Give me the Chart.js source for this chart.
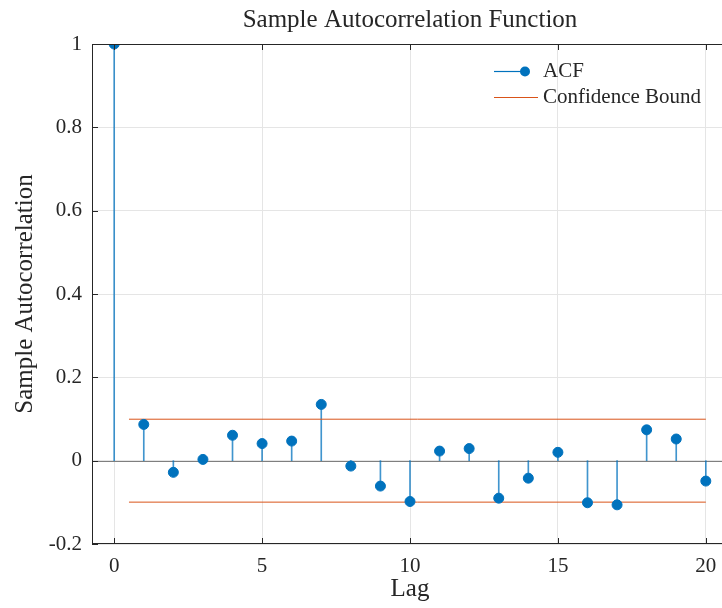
<!DOCTYPE html>
<html>
<head>
<meta charset="utf-8">
<script src="https://cdn.jsdelivr.net/npm/chart.js@4"></script>
<style>
  html, body { margin: 0; padding: 0; background: #fff; overflow: hidden; }
</style>
</head>
<body>
<canvas id="acfChart" width="734" height="608"></canvas>
<script>
const lags = [0, 1, 2, 3, 4, 5, 6, 7, 8, 9, 10, 11, 12, 13, 14, 15, 16, 17, 18, 19, 20];
const acf = [1, 0.087, -0.028, 0.003, 0.061, 0.041, 0.047, 0.135, -0.013, -0.061, -0.098,
  0.023, 0.029, -0.090, -0.042, 0.020, -0.101, -0.106, 0.074, 0.052, -0.049];
const boundLags = [0.5, 20];
const upperBound = [0.0995, 0.0995];
const lowerBound = [-0.0995, -0.0995];
const xTicks = [0, 5, 10, 15, 20];
const legendLabels = ['ACF', 'Confidence Bound'];

const blue = '#0072BD';
const orange = '#D95319';
const axisColor = '#262626';
const serif = '"Liberation Serif", "DejaVu Serif", serif';

// stems as floating bars from 0 to the value
const stems = lags.map((l, i) => ({x: l, y: [0, acf[i]]}));
const points = lags.map((l, i) => ({x: l, y: acf[i]}));

const boxPlugin = {
  id: 'box',
  beforeDatasetsDraw(chart) {
    const ctx = chart.ctx, a = chart.chartArea, y = chart.scales.y;
    ctx.save();
    ctx.strokeStyle = '#7f7f7f';
    ctx.lineWidth = 1;
    const y0 = Math.round(y.getPixelForValue(0)) + 0.5;
    ctx.beginPath(); ctx.moveTo(a.left, y0); ctx.lineTo(a.right, y0); ctx.stroke();
    ctx.restore();
  },
  afterDraw(chart) {
    const ctx = chart.ctx, a = chart.chartArea, x = chart.scales.x, y = chart.scales.y;
    ctx.save();
    ctx.strokeStyle = axisColor;
    ctx.lineWidth = 1;
    ctx.beginPath();
    ctx.moveTo(a.left + 0.5, a.bottom); ctx.lineTo(a.left + 0.5, Math.round(a.top) + 0.5);
    ctx.lineTo(a.right, Math.round(a.top) + 0.5);
    ctx.moveTo(a.left, Math.round(a.bottom) - 0.5); ctx.lineTo(a.right, Math.round(a.bottom) - 0.5);
    xTicks.forEach(v => {
      const px = Math.round(x.getPixelForValue(v)) + 0.5;
      ctx.moveTo(px, a.bottom); ctx.lineTo(px, a.bottom - 6);
      ctx.moveTo(px, a.top); ctx.lineTo(px, a.top + 6);
    });
    y.ticks.forEach(t => {
      const py = Math.round(y.getPixelForValue(t.value)) + 0.5;
      ctx.moveTo(a.left, py); ctx.lineTo(a.left + 6, py);
    });
    ctx.stroke();

    // legend
    const lx = 494, ly = [71.5, 97.5];
    ctx.lineWidth = 1.2;
    ctx.strokeStyle = blue;
    ctx.beginPath(); ctx.moveTo(lx, ly[0]); ctx.lineTo(lx + 31, ly[0]); ctx.stroke();
    ctx.fillStyle = blue;
    ctx.beginPath(); ctx.arc(lx + 31, ly[0], 5, 0, Math.PI * 2); ctx.fill();
    ctx.strokeStyle = orange;
    ctx.beginPath(); ctx.moveTo(lx, ly[1]); ctx.lineTo(lx + 44, ly[1]); ctx.stroke();
    ctx.fillStyle = axisColor;
    ctx.font = '21px ' + serif;
    ctx.textBaseline = 'middle';
    legendLabels.forEach((t, i) => ctx.fillText(t, lx + 49, ly[i]));
    ctx.restore();
  }
};

new Chart(document.getElementById('acfChart').getContext('2d'), {
  data: {
    datasets: [
      {type: 'bar', data: stems, backgroundColor: 'rgba(0,114,189,0.75)', barThickness: 1, grouped: false, order: 3},
      {type: 'line', data: boundLags.map((l, i) => ({x: l, y: upperBound[i]})), borderColor: orange, borderWidth: 1, pointRadius: 0, order: 2},
      {type: 'line', data: boundLags.map((l, i) => ({x: l, y: lowerBound[i]})), borderColor: orange, borderWidth: 1, pointRadius: 0, order: 2},
      {type: 'scatter', data: points, backgroundColor: blue, borderColor: blue, pointRadius: 5, pointHoverRadius: 5, order: 1}
    ]
  },
  options: {
    responsive: false,
    animation: false,
    events: [],
    layout: {padding: {left: 0, right: 0, top: 0, bottom: 0}},
    plugins: {
      legend: {display: false},
      tooltip: {enabled: false},
      title: {
        display: true, text: 'Sample Autocorrelation Function', fullSize: false,
        color: axisColor, font: {family: serif, size: 25, weight: 'normal'},
        padding: {top: 5, bottom: 9}
      }
    },
    scales: {
      x: {
        type: 'linear', min: -0.75, max: 20.75, offset: false,
        afterBuildTicks: s => { s.ticks = xTicks.map(v => ({value: v})); },
        afterFit: s => { s.height = 64; },
        grid: {color: '#e5e5e5', drawTicks: false, offset: false},
        border: {display: false},
        ticks: {color: axisColor, padding: 10, font: {family: serif, size: 21}, maxRotation: 0},
        title: {display: true, text: 'Lag', color: axisColor, font: {family: serif, size: 25}, padding: {top: 0}}
      },
      y: {
        min: -0.2, max: 1,
        afterFit: s => { s.width = 92; },
        grid: {color: '#e5e5e5', drawTicks: false},
        border: {display: false},
        ticks: {stepSize: 0.2, color: axisColor, padding: 10, font: {family: serif, size: 21},
          callback: v => String(Math.round(v * 10) / 10)},
        title: {display: true, text: 'Sample Autocorrelation', color: axisColor, font: {family: serif, size: 25}, padding: {top: 10, bottom: 0}}
      }
    }
  },
  plugins: [boxPlugin]
});
</script>
</body>
</html>
